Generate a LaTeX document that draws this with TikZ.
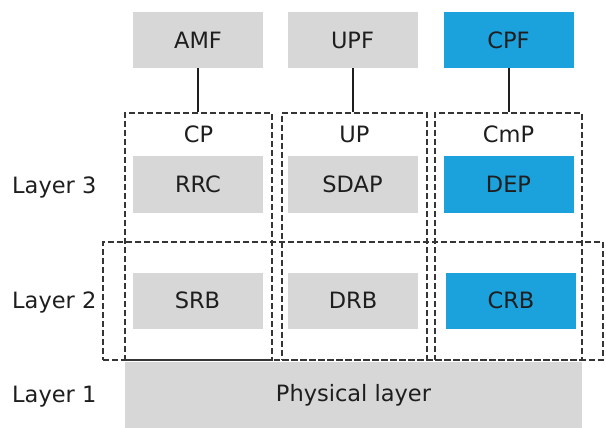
\documentclass[tikz,border=0pt]{standalone}
\usepackage{fontspec}
\setmainfont{DejaVu Sans}
\definecolor{boxgray}{HTML}{D7D7D7}
\definecolor{boxblue}{HTML}{1BA1DC}
\definecolor{ink}{HTML}{1E1E1E}
\tikzset{
  fn/.style={fill=boxgray, draw=none, inner sep=0pt, text=ink,
    font=\fontsize{22.5}{26}\selectfont, minimum height=56pt},
  gbox/.style={fn, minimum width=130pt},
  bbox/.style={fn, fill=boxblue, minimum width=130pt},
  group/.style={draw=ink!90, dash pattern=on 6pt off 3pt, line width=1.6pt, inner sep=0pt},
  lbl/.style={text=ink, font=\fontsize{22.5}{26}\selectfont, inner sep=0pt},
  link/.style={draw=ink, line width=2pt}
}
\begin{document}
\begin{tikzpicture}[x=1pt,y=-1pt]
\useasboundingbox (0,0) rectangle (606,428);
\fill[white] (0,0) rectangle (606,428);

% physical layer
\node[fn, minimum width=457pt, minimum height=66pt] (phy) at (353.5,395) {Physical layer};

% dashed plane groups
\node[group, minimum width=147pt, minimum height=247pt] (cp) at (198.5,236.5) {};
\node[group, minimum width=145pt, minimum height=247pt] (up) at (354.5,236.5) {};
\node[group, minimum width=147pt, minimum height=247pt] (cmp) at (508.5,236.5) {};
\node[group, minimum width=500pt, minimum height=118pt] (l2) at (353,301) {};

% core functions
\node[gbox] (amf) at (198,40) {AMF};
\node[gbox] (upf) at (352.5,40) {UPF};
\node[bbox] (cpf) at (508.5,40) {CPF};

% plane titles
\node[lbl] (cpt) at (198.5,134) {CP};
\node[lbl] (upt) at (354.5,134) {UP};
\node[lbl] (cmpt) at (508.5,134) {CmP};

% layer 3
\node[gbox] (rrc) at (198,184.5) {RRC};
\node[gbox] (sdap) at (352.5,184.5) {SDAP};
\node[bbox] (dep) at (508.5,184.5) {DEP};

% layer 2
\node[gbox] (srb) at (197.5,300.5) {SRB};
\node[gbox] (drb) at (353,300.5) {DRB};
\node[bbox] (crb) at (511,300.5) {CRB};

% layer labels
\node[lbl, anchor=west] (la3) at (12,187) {Layer 3};
\node[lbl, anchor=west] (la2) at (12,302) {Layer 2};
\node[lbl, anchor=west] (la1) at (12,397) {Layer 1};

% links from core functions to planes
\draw[link] (amf.south) -- (amf.south |- cp.north);
\draw[link] (upf.south) -- (upf.south |- up.north);
\draw[link] (cpf.south) -- (cmp.north);
\end{tikzpicture}
\end{document}
